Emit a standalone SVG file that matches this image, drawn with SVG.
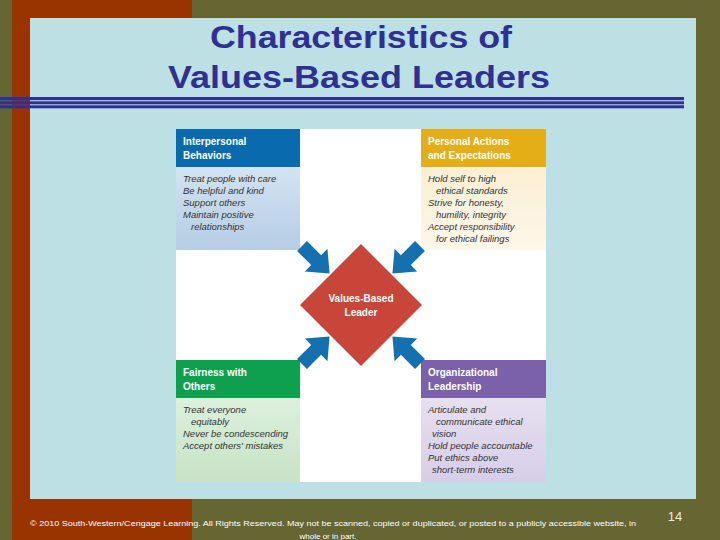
<svg xmlns="http://www.w3.org/2000/svg" width="720" height="540" viewBox="0 0 720 540">
<style>
.title{font-family:"Liberation Sans",Arial,sans-serif;font-weight:bold;font-size:32px;fill:#2E3192;}
.hdr{font-family:"Liberation Sans",Arial,sans-serif;font-weight:bold;font-size:10px;fill:#ffffff;}
.body{font-family:"Liberation Sans",Arial,sans-serif;font-style:italic;font-size:9.5px;fill:#333333;}
.dia{font-family:"Liberation Sans",Arial,sans-serif;font-weight:bold;font-size:10px;fill:#ffffff;text-anchor:middle;}
.foot{font-family:"Liberation Sans",Arial,sans-serif;font-size:8px;fill:#ffffff;}
.arrow{fill:#1570B0;}
</style>
<defs>
<linearGradient id="gBlue" x1="0" y1="0" x2="0" y2="1"><stop offset="0" stop-color="#D3E3F1"/><stop offset="1" stop-color="#B5CDE5"/></linearGradient>
<linearGradient id="gGold" x1="0" y1="0" x2="0" y2="1"><stop offset="0" stop-color="#FBEFD2"/><stop offset="1" stop-color="#FDF7EA"/></linearGradient>
<linearGradient id="gGreen" x1="0" y1="0" x2="0" y2="1"><stop offset="0" stop-color="#DDF0DD"/><stop offset="1" stop-color="#C6E3C6"/></linearGradient>
<linearGradient id="gPurple" x1="0" y1="0" x2="0" y2="1"><stop offset="0" stop-color="#E6E0F0"/><stop offset="1" stop-color="#D6CEE8"/></linearGradient>
<path id="arrowShape" d="M0,-7 L20,-7 L20,-16 L39,0 L20,16 L20,7 L0,7 Z"/>
</defs>

<!-- background -->
<rect x="0" y="0" width="720" height="540" fill="#666633"/>
<rect x="12" y="0" width="180" height="540" fill="#993300"/>
<rect x="30" y="18" width="666" height="481" fill="#BCE0E4"/>

<!-- title rules -->
<rect x="0" y="97" width="684" height="3.2" fill="#2E3192"/>
<rect x="0" y="101.3" width="684" height="3" fill="#2E3192"/>
<rect x="0" y="105.3" width="684" height="3" fill="#2E3192"/>

<text class="title" x="361" y="48" text-anchor="middle" textLength="302" lengthAdjust="spacingAndGlyphs">Characteristics of</text>
<text class="title" x="359" y="88" text-anchor="middle" textLength="382" lengthAdjust="spacingAndGlyphs">Values-Based Leaders</text>

<!-- figure area -->
<rect x="176" y="129" width="370" height="353" fill="#ffffff"/>

<g id="node-interpersonal">
<rect x="176" y="167" width="124" height="83" fill="url(#gBlue)"/>
<rect x="176" y="129" width="124" height="38" fill="#0A6AAE"/>
<text class="hdr" x="183" y="145">Interpersonal</text>
<text class="hdr" x="183" y="159">Behaviors</text>
<text class="body" x="183" y="182">Treat people with care</text>
<text class="body" x="183" y="194">Be helpful and kind</text>
<text class="body" x="183" y="206">Support others</text>
<text class="body" x="183" y="218">Maintain positive</text>
<text class="body" x="191" y="230">relationships</text>
</g>

<g id="node-personal">
<rect x="421" y="167" width="125" height="83" fill="url(#gGold)"/>
<rect x="421" y="129" width="125" height="38" fill="#E5AE17"/>
<text class="hdr" x="428" y="145">Personal Actions</text>
<text class="hdr" x="428" y="159">and Expectations</text>
<text class="body" x="428" y="182">Hold self to high</text>
<text class="body" x="436" y="194">ethical standards</text>
<text class="body" x="428" y="206">Strive for honesty,</text>
<text class="body" x="436" y="218">humility, integrity</text>
<text class="body" x="428" y="230">Accept responsibility</text>
<text class="body" x="436" y="242">for ethical failings</text>
</g>

<g id="node-fairness">
<rect x="176" y="398" width="124" height="84" fill="url(#gGreen)"/>
<rect x="176" y="360" width="124" height="38" fill="#0E9F4F"/>
<text class="hdr" x="183" y="376">Fairness with</text>
<text class="hdr" x="183" y="390">Others</text>
<text class="body" x="183" y="413">Treat everyone</text>
<text class="body" x="191" y="425">equitably</text>
<text class="body" x="183" y="437">Never be condescending</text>
<text class="body" x="183" y="449">Accept others' mistakes</text>
</g>

<g id="node-organizational">
<rect x="421" y="398" width="125" height="84" fill="url(#gPurple)"/>
<rect x="421" y="360" width="125" height="38" fill="#7B60AA"/>
<text class="hdr" x="428" y="376">Organizational</text>
<text class="hdr" x="428" y="390">Leadership</text>
<text class="body" x="428" y="413">Articulate and</text>
<text class="body" x="436" y="425">communicate ethical</text>
<text class="body" x="432" y="437">vision</text>
<text class="body" x="428" y="449">Hold people accountable</text>
<text class="body" x="428" y="461">Put ethics above</text>
<text class="body" x="432" y="473">short-term interests</text>
</g>

<g id="node-leader">
<polygon points="361,244 422,305 361,366 300,305" fill="#C8453A"/>
<text class="dia" x="361" y="302">Values-Based</text>
<text class="dia" x="361" y="316">Leader</text>
</g>

<g id="connectors">
<use href="#arrowShape" class="arrow" transform="translate(302,246) rotate(45)"/>
<use href="#arrowShape" class="arrow" transform="translate(420,246) rotate(135)"/>
<use href="#arrowShape" class="arrow" transform="translate(302,364) rotate(-45)"/>
<use href="#arrowShape" class="arrow" transform="translate(420,364) rotate(-135)"/>
</g>

<!-- footer -->
<text class="foot" x="30" y="526" textLength="606" lengthAdjust="spacingAndGlyphs">© 2010 South-Western/Cengage Learning. All Rights Reserved. May not be scanned, copied or duplicated, or posted to a publicly accessible website, in</text>
<text class="foot" x="328" y="539" text-anchor="middle">whole or in part.</text>
<text x="675" y="521" font-family="Liberation Sans,Arial,sans-serif" font-size="13" fill="#E8E8E8" text-anchor="middle">14</text>
</svg>
